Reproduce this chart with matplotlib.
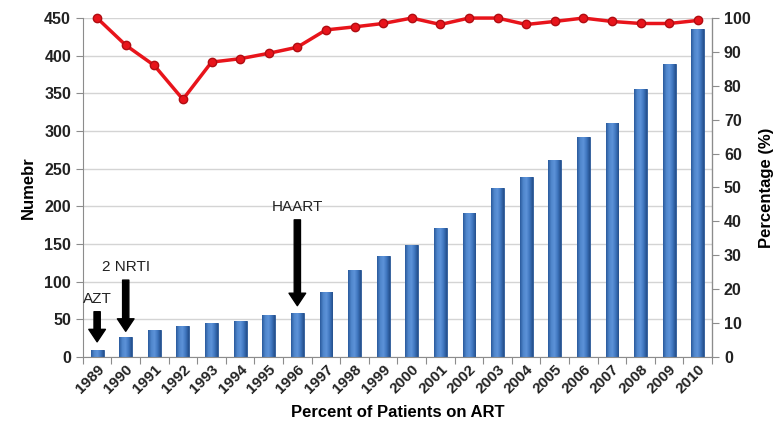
import numpy as np
import matplotlib
matplotlib.use("Agg")
import matplotlib.pyplot as plt
from matplotlib.colors import LinearSegmentedColormap

plt.rcParams['font.family'] = ['Liberation Sans', 'DejaVu Sans']

years = [str(y) for y in range(1989, 2011)]
patients = [9, 26, 36, 41, 45, 48, 56, 58, 86, 116, 134, 149, 171, 191,
            224, 239, 261, 292, 310, 356, 389, 436]
percent_art = [100, 92, 86, 76, 87, 88, 89.6, 91.4, 96.5, 97.4, 98.4, 100,
               98.1, 100, 100, 98.1, 99, 100, 99, 98.4, 98.4, 99.3]

# annotations: (label, bar index, text y, arrow tail y, arrow tip y) in left-axis units
events = [("AZT", 0, 77, 60, 20),
          ("2 NRTI", 1, 120, 102, 34),
          ("HAART", 7, 199, 182, 68)]

fig = plt.figure(figsize=(7.74, 4.30), dpi=100)
ax = fig.add_axes([0.107, 0.170, 0.813, 0.788])
ax2 = ax.twinx()

x = np.arange(len(years))
bars = ax.bar(x, patients, width=0.45, color='#3a70b8', edgecolor='#2b5896',
              linewidth=0.6, zorder=2)

# cylinder-like shading inside each bar
shade = LinearSegmentedColormap.from_list(
    'shade', ['#2a5a9c', '#4f86cc', '#5d93d8', '#3f76bf', '#244f8c'])
grad = np.linspace(0, 1, 64).reshape(1, -1)
for b in bars:
    x0, w, h = b.get_x(), b.get_width(), b.get_height()
    im = ax.imshow(grad, cmap=shade, aspect='auto', extent=(x0, x0 + w, 0, h),
                   zorder=2.5)
    im.set_clip_path(b)

ax.set_xlim(-0.5, len(years) - 0.5)
ax.set_ylim(0, 450)
ax.set_yticks(range(0, 451, 50))
ax.yaxis.grid(True, color='#d4d4d4', linewidth=1, zorder=0)
ax.set_axisbelow(True)

# tick marks between categories, labels centred on bars
ax.set_xticks(np.arange(-0.5, len(years), 1.0))
ax.set_xticklabels([])
ax.tick_params(axis='x', which='major', length=5, color='#8c8c8c', direction='out')
ax.set_xticks(x, minor=True)
ax.set_xticklabels(years, minor=True, rotation=45, ha='right', rotation_mode='anchor',
                   fontsize=11, fontweight='bold', color='#222222')
ax.tick_params(axis='x', which='minor', length=0, pad=4)
ax.tick_params(axis='y', length=5, color='#8c8c8c', labelsize=11.5, labelcolor='#222222')
for t in ax.get_yticklabels():
    t.set_fontweight('bold')

ax.spines['top'].set_visible(False)
ax2.spines['top'].set_visible(False)
ax.spines['left'].set_color('#8c8c8c')
ax.spines['bottom'].set_color('#8c8c8c')
ax2.spines['right'].set_color('#8c8c8c')
ax2.spines['left'].set_visible(False)
ax2.spines['bottom'].set_visible(False)

ax2.plot(x, percent_art, color='#e8141b', linewidth=2.5, marker='o', markersize=6,
         markerfacecolor='#e8141b', markeredgecolor='#b00d12', zorder=3,
         clip_on=False)
ax2.set_ylim(0, 100)
ax2.set_yticks(range(0, 101, 10))
ax2.tick_params(axis='y', length=5, color='#8c8c8c', labelsize=11.5, labelcolor='#222222')
for t in ax2.get_yticklabels():
    t.set_fontweight('bold')

ax.set_ylabel("Numebr", fontsize=12, fontweight='bold', labelpad=6)
ax2.set_ylabel("Percentage (%)", fontsize=12, fontweight='bold', labelpad=6)
ax.set_xlabel("Percent of Patients on ART", fontsize=12, fontweight='bold', labelpad=6)

for label, i, ty, tail, tip in events:
    ax.text(i, ty, label, ha='center', va='center', fontsize=11, color='#222222')
    ax.annotate('', xy=(i, tip), xytext=(i, tail),
                arrowprops=dict(width=4.5, headwidth=12, headlength=9,
                                facecolor='black', edgecolor='black'))

fig.savefig("out.png", dpi=100)
